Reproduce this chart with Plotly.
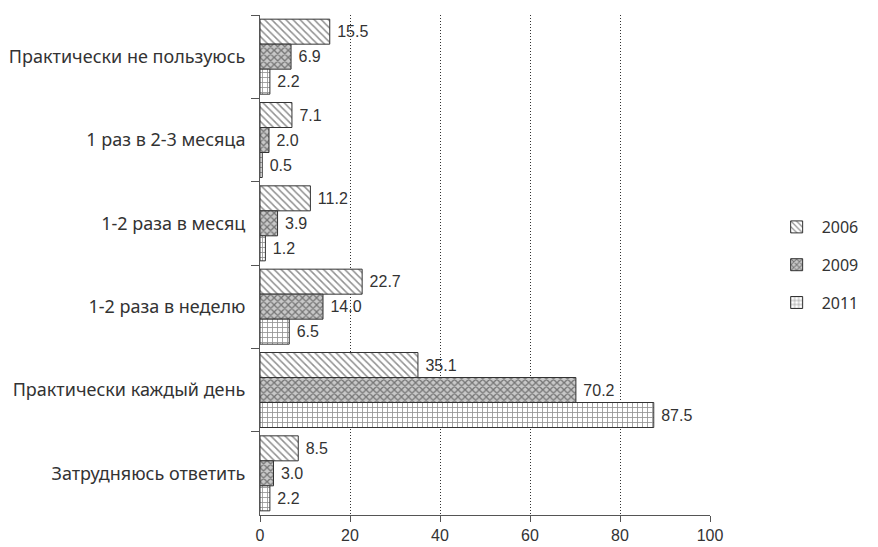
import plotly.graph_objects as go

categories = [
    "Практически не пользуюсь",
    "1 раз в 2-3 месяца",
    "1-2 раза в месяц",
    "1-2 раза в неделю",
    "Практически каждый день",
    "Затрудняюсь ответить",
]
years = ["2006", "2009", "2011"]
values_2006 = [15.5, 7.1, 11.2, 22.7, 35.1, 8.5]
values_2009 = [6.9, 2.0, 3.9, 14.0, 70.2, 3.0]
values_2011 = [2.2, 0.5, 1.2, 6.5, 87.5, 2.2]
x_ticks = [0, 20, 40, 60, 80, 100]

series = [values_2006, values_2009, values_2011]
patterns = [
    dict(shape="\\", fgcolor="#222222", bgcolor="white", size=5, solidity=0.3, fillmode="overlay"),
    dict(shape="x", fgcolor="#222222", bgcolor="#c8c8c8", size=5, solidity=0.45, fillmode="overlay"),
    dict(shape="+", fgcolor="#222222", bgcolor="white", size=5, solidity=0.3, fillmode="overlay"),
]

num_font = "Liberation Sans, Arial, sans-serif"
cat_font = "Noto Sans, sans-serif"

fig = go.Figure()
for name, vals, pat in zip(years, series, patterns):
    fig.add_trace(go.Bar(
        y=categories, x=vals, name=name, orientation="h", legendgroup=name,
        marker=dict(color="white", line=dict(color="#333333", width=1), pattern=pat),
        texttemplate="\u00a0%{x:.1f}", textposition="outside", cliponaxis=False,
        textfont=dict(family=num_font, size=16, color="#333333"),
    ))

fig.update_layout(
    width=870, height=539,
    margin=dict(l=252, r=168, t=7, b=32, autoexpand=False),
    barmode="group", bargap=0.1, bargroupgap=0,
    plot_bgcolor="white", paper_bgcolor="white",
    font=dict(family=cat_font, size=16, color="#333333"),
    legend=dict(x=1.137, y=0.5, xanchor="left", yanchor="middle",
                font=dict(family=cat_font, size=16, color="#333333"),
                tracegroupgap=14, itemwidth=40),
    showlegend=True,
)
fig.update_xaxes(
    range=[0, 100], tickvals=x_ticks, showgrid=True, gridcolor="#333333", griddash="1px,2px",
    gridwidth=1, zeroline=False, showline=True, linecolor="#555555", linewidth=1,
    ticks="outside", ticklen=6, tickcolor="#555555", automargin=False,
    tickfont=dict(family=num_font, size=16, color="#333333"),
)
fig.update_yaxes(
    autorange="reversed", showline=True, linecolor="#555555", linewidth=1,
    ticks="outside", tickson="boundaries", ticklen=8, tickcolor="#555555",
    showgrid=False, automargin=False, ticklabelstandoff=10,
    tickfont=dict(family=cat_font, size=18, color="#333333"),
)

fig.write_html("out.html")
